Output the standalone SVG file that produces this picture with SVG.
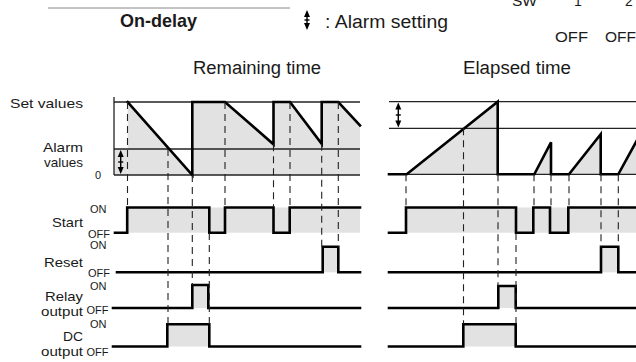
<svg xmlns="http://www.w3.org/2000/svg" width="636" height="362" viewBox="0 0 636 362">
<style>
  text { font-family: "Liberation Sans", Arial, sans-serif; fill: #1a1a1a; }
  .lbl { font-size: 13.5px; text-anchor: end; }
  .st { font-size: 11px; }
  .hd { font-size: 18px; }
  .grid { stroke: #222; stroke-width: 1.3; fill: none; }
  .wave { stroke: #000; stroke-width: 2.6; fill: none; stroke-linejoin: miter; stroke-linecap: square; }
  .fill { fill: #e2e2e2; stroke: none; }
  .dash { stroke: #222; stroke-width: 1.1; stroke-dasharray: 7 5; fill: none; }
  .arr { stroke: #000; stroke-width: 1.4; }
  .head { fill: #000; }
</style>

<g id="header">
  <line x1="48" y1="8" x2="290" y2="8" stroke="#888" stroke-width="1"/>
  <text x="120" y="27" font-size="19" font-weight="bold" textLength="77" lengthAdjust="spacingAndGlyphs">On-delay</text>
</g>

<g id="legend">
  <line class="arr" x1="307" y1="14" x2="307" y2="26"/>
  <polygon class="head" points="307,10 304,17 310,17"/>
  <polygon class="head" points="307,30 304,23 310,23"/>
  <line class="arr" x1="304.5" y1="20" x2="309.5" y2="20"/>
  <text class="hd" x="325" y="28" textLength="123" lengthAdjust="spacingAndGlyphs">: Alarm setting</text>
</g>

<g id="sw-table">
  <text x="512" y="6" font-size="14" textLength="25" lengthAdjust="spacingAndGlyphs">SW</text>
  <text x="574" y="6" font-size="14">1</text>
  <text x="625" y="6" font-size="14">2</text>
  <text x="555" y="41.5" font-size="14" textLength="33" lengthAdjust="spacingAndGlyphs">OFF</text>
  <text x="605" y="41.5" font-size="14" textLength="31" lengthAdjust="spacingAndGlyphs">OFF</text>
</g>

<g id="titles">
  <text class="hd" x="193" y="74" textLength="128" lengthAdjust="spacingAndGlyphs">Remaining time</text>
  <text class="hd" x="463" y="74" textLength="108" lengthAdjust="spacingAndGlyphs">Elapsed time</text>
</g>

<g id="labels">
  <text class="lbl" x="83" y="108" textLength="73" lengthAdjust="spacingAndGlyphs">Set values</text>
  <text class="lbl" x="83" y="151.5" textLength="40" lengthAdjust="spacingAndGlyphs">Alarm</text>
  <text class="lbl" x="83" y="166.5">values</text>
  <text x="95" y="179" font-size="11">0</text>
  <text class="lbl" x="83" y="227" textLength="31" lengthAdjust="spacingAndGlyphs">Start</text>
  <text class="lbl" x="83" y="266.7" textLength="39" lengthAdjust="spacingAndGlyphs">Reset</text>
  <text class="lbl" x="83" y="300.5" textLength="38" lengthAdjust="spacingAndGlyphs">Relay</text>
  <text class="lbl" x="83" y="316" textLength="42" lengthAdjust="spacingAndGlyphs">output</text>
  <text class="lbl" x="83" y="340.5" textLength="20" lengthAdjust="spacingAndGlyphs">DC</text>
  <text class="lbl" x="83" y="355.5" textLength="42" lengthAdjust="spacingAndGlyphs">output</text>
  <text class="st" x="90" y="213">ON</text>
  <text class="st" x="88" y="237.5">OFF</text>
  <text class="st" x="90" y="248.5">ON</text>
  <text class="st" x="88" y="276.5">OFF</text>
  <text class="st" x="90" y="290">ON</text>
  <text class="st" x="86.5" y="313.5">OFF</text>
  <text class="st" x="90" y="328">ON</text>
  <text class="st" x="86.5" y="356">OFF</text>
</g>

<g id="left-chart">
  <polygon class="fill" points="127.7,102 192.3,175 192.3,102 225,102 273.5,144.3 273.5,102 290,102 321.7,143.8 321.7,102 338.3,102 360,125.5 360,175 127.7,175"/>
  <rect class="fill" x="114" y="149" width="13.7" height="26"/>
  <line class="grid" x1="114" y1="97" x2="114" y2="175"/>
  <line class="grid" x1="114" y1="102" x2="360" y2="102"/>
  <line class="grid" x1="114" y1="149" x2="360" y2="149"/>
  <line class="grid" x1="114" y1="175" x2="360" y2="175"/>
  <path class="wave" d="M127.7,102 L192.3,175 V102 H225 L273.5,144.3 V102 H290 L321.7,143.8 V102 H338.3 L360,125.5"/>
  <line class="arr" x1="120.7" y1="155" x2="120.7" y2="169"/>
  <polygon class="head" points="120.7,150 117.7,157 123.7,157"/>
  <polygon class="head" points="120.7,174 117.7,167 123.7,167"/>
  <line class="arr" x1="118.2" y1="162" x2="123.2" y2="162"/>
</g>

<g id="right-chart">
  <polygon class="fill" points="406.7,174.3 497.7,101.7 497.7,174.3"/>
  <polygon class="fill" points="534.3,174.3 551,142.3 551,174.3"/>
  <polygon class="fill" points="569,174.3 600.7,134.3 600.7,174.3"/>
  <polygon class="fill" points="618.3,174.3 636,142 636,174.3"/>
  <line class="grid" x1="389" y1="101.7" x2="636" y2="101.7"/>
  <line class="grid" x1="389" y1="128.3" x2="636" y2="128.3"/>
  <line class="grid" x1="389" y1="174.3" x2="636" y2="174.3" stroke-width="2"/>
  <path class="wave" d="M389,174.3 H406.7 L497.7,101.7 V174.3 H534.3 L551,142.3 V174.3 H569 L600.7,134.3 V174.3 H618.3 L637,140.2"/>
  <line class="arr" x1="398.3" y1="107.5" x2="398.3" y2="122.5"/>
  <polygon class="head" points="398.3,102.5 395.3,109.5 401.3,109.5"/>
  <polygon class="head" points="398.3,127.5 395.3,120.5 401.3,120.5"/>
  <line class="arr" x1="395.8" y1="115" x2="400.8" y2="115"/>
</g>

<g id="signals">
  <rect class="fill" x="127.2" y="207.5" width="232.8" height="25.2"/>
  <rect class="fill" x="322.7" y="246.7" width="15.6" height="25.6"/>
  <rect class="fill" x="192.3" y="285" width="16" height="23"/>
  <rect class="fill" x="167.3" y="324.3" width="42" height="22.2"/>
  <rect class="fill" x="406" y="207.5" width="230" height="25.2"/>
  <rect class="fill" x="601" y="246.7" width="17.3" height="25.6"/>
  <rect class="fill" x="498.3" y="286" width="17.4" height="22"/>
  <rect class="fill" x="463.3" y="324.3" width="52.4" height="22.2"/>

  <path class="wave" d="M115,232.7 H127.2 V207.5 H209.3 V232.7 H225 V207.5 H273.5 V232.7 H289.7 V207.5 H360"/>
  <path class="wave" d="M117,272.3 H322.7 V246.7 H338.3 V272.3 H360"/>
  <path class="wave" d="M113,308 H192.3 V285 H208.3 V308 H360"/>
  <path class="wave" d="M113,346.5 H167.3 V324.3 H209.3 V346.5 H360"/>

  <path class="wave" d="M389,232.7 H406 V207.5 H516 V232.7 H533.3 V207.5 H550 V232.7 H568.3 V207.5 H637"/>
  <path class="wave" d="M389,272.3 H601 V246.7 H618.3 V272.3 H637"/>
  <path class="wave" d="M389,308 H498.3 V286 H515.7 V308 H637"/>
  <path class="wave" d="M389,346.5 H463.3 V324.3 H515.7 V346.5 H637"/>
</g>

<g id="connectors">
  <line class="dash" x1="127.5" y1="102" x2="127.5" y2="207"/>
  <line class="dash" x1="168" y1="149" x2="168" y2="324"/>
  <line class="dash" x1="192.3" y1="175" x2="192.3" y2="285"/>
  <line class="dash" x1="209.3" y1="233" x2="209.3" y2="324"/>
  <line class="dash" x1="225" y1="102" x2="225" y2="207"/>
  <line class="dash" x1="273.5" y1="144.3" x2="273.5" y2="207"/>
  <line class="dash" x1="290" y1="102" x2="290" y2="207"/>
  <line class="dash" x1="321.7" y1="143.8" x2="321.7" y2="246.7"/>
  <line class="dash" x1="338.3" y1="102" x2="338.3" y2="246.7"/>

  <line class="dash" x1="406" y1="174.3" x2="406" y2="207"/>
  <line class="dash" x1="463.5" y1="128.3" x2="463.5" y2="324"/>
  <line class="dash" x1="498" y1="174.3" x2="498" y2="286"/>
  <line class="dash" x1="516" y1="233" x2="516" y2="324"/>
  <line class="dash" x1="534" y1="174.3" x2="534" y2="207"/>
  <line class="dash" x1="551" y1="174.3" x2="551" y2="207"/>
  <line class="dash" x1="569" y1="174.3" x2="569" y2="207"/>
  <line class="dash" x1="601" y1="174.3" x2="601" y2="246.7"/>
  <line class="dash" x1="618.3" y1="174.3" x2="618.3" y2="246.7"/>
</g>
</svg>
